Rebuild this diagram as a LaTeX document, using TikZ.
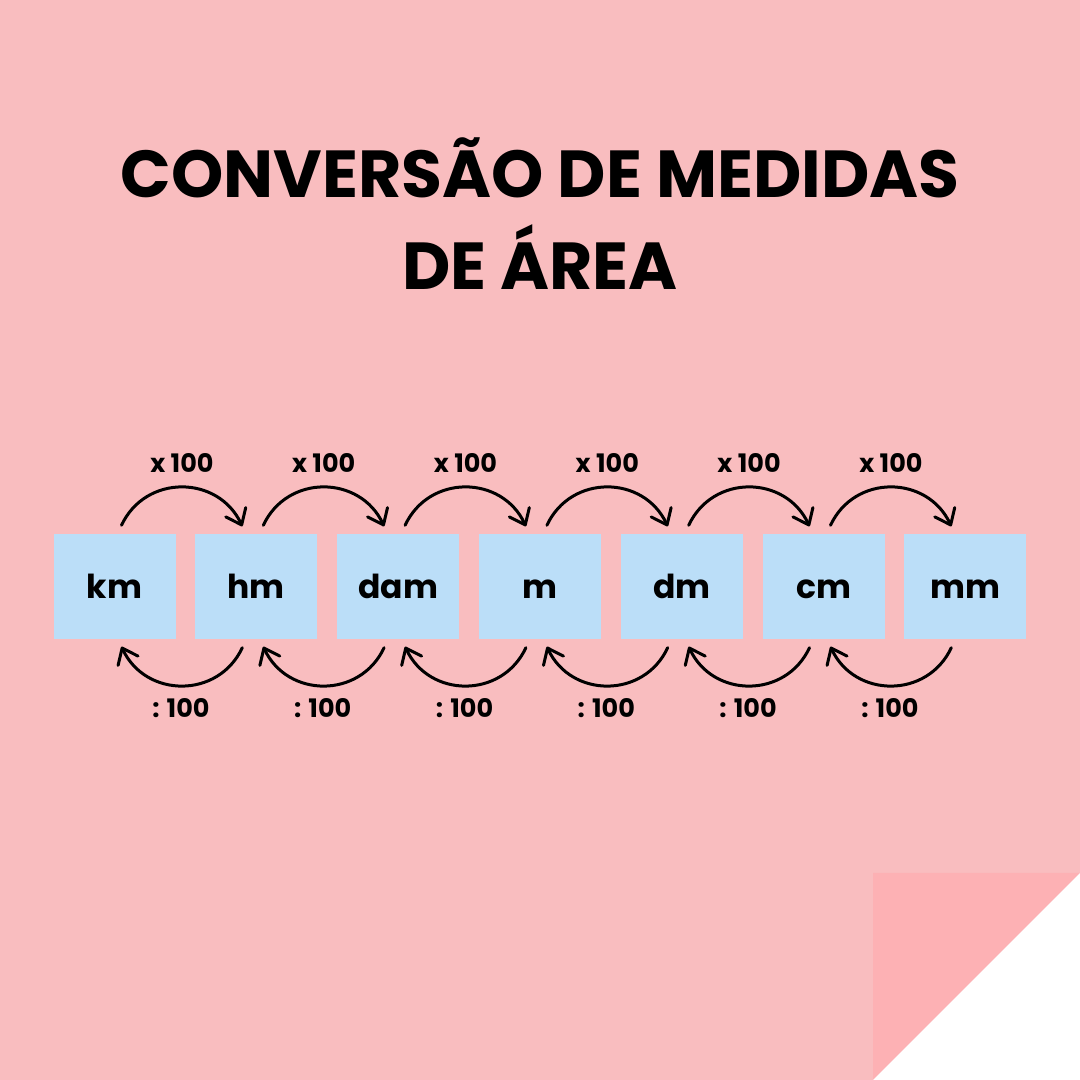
\documentclass[tikz,border=0pt]{standalone}
\usepackage{fontspec}
\setmainfont{Poppins}
\usetikzlibrary{positioning,calc,arrows.meta}
\definecolor{bgpink}{HTML}{F9BDBF}
\definecolor{foldpink}{HTML}{FDB1B4}
\definecolor{boxblue}{HTML}{BBDEF8}
\tikzset{
    unitbox/.style={fill=boxblue, minimum width=122pt, minimum height=105pt, inner sep=0pt,
        font=\fontsize{33}{33}\selectfont\bfseries, text height=24pt, text depth=0pt},
    conv/.style={line width=3pt, line cap=round, -{Straight Barb[length=14pt,width=22pt,round]}},
    factor/.style={font=\fontsize{25.5}{25.5}\selectfont\bfseries, anchor=base, inner sep=0pt}
}
\begin{document}
\begin{tikzpicture}[x=1pt,y=1pt]
    % page with folded corner
    \fill[bgpink] (0,0) rectangle (1080,1080);
    \fill[foldpink] (873,207) -- (1080,207) -- (873,0) -- cycle;
    \fill[white] (1080,207) -- (1080,0) -- (873,0) -- cycle;

    % title
    \node[font=\fontsize{66.5}{66.5}\selectfont\bfseries, anchor=base, inner sep=0pt] (title1) at (540,882) {CONVERSÃO DE MEDIDAS};
    \node[font=\fontsize{66.5}{66.5}\selectfont\bfseries, anchor=base, inner sep=0pt] (title2) at (540,790) {DE ÁREA};

    % units: km hm dam m dm cm mm
    \foreach \lbl [count=\i from 0] in {km,hm,dam,m,dm,cm,mm}
        \node[unitbox] (\lbl) at (114.5+141.8*\i,493) {\lbl};

    % x 100 above, : 100 below
    \foreach \a/\b [count=\i] in {km/hm,hm/dam,dam/m,m/dm,dm/cm,cm/mm} {
        \draw[conv] ([xshift=7pt,yshift=9pt]\a.north) to[out=65,in=115,looseness=1.2] ([xshift=-14pt,yshift=8pt]\b.north);
        \draw[conv] ([xshift=-14pt,yshift=-8pt]\b.south) to[out=-115,in=-65,looseness=1.2] ([xshift=7pt,yshift=-7pt]\a.south);
        \node[factor] (mul\i) at ($(\a.north)!0.5!(\b.north)+(-3.5,61.5)$) {x 100};
        \node[factor] (div\i) at ($(\a.south)!0.5!(\b.south)+(-4.5,-77.5)$) {: 100};
    }
\end{tikzpicture}
\end{document}
